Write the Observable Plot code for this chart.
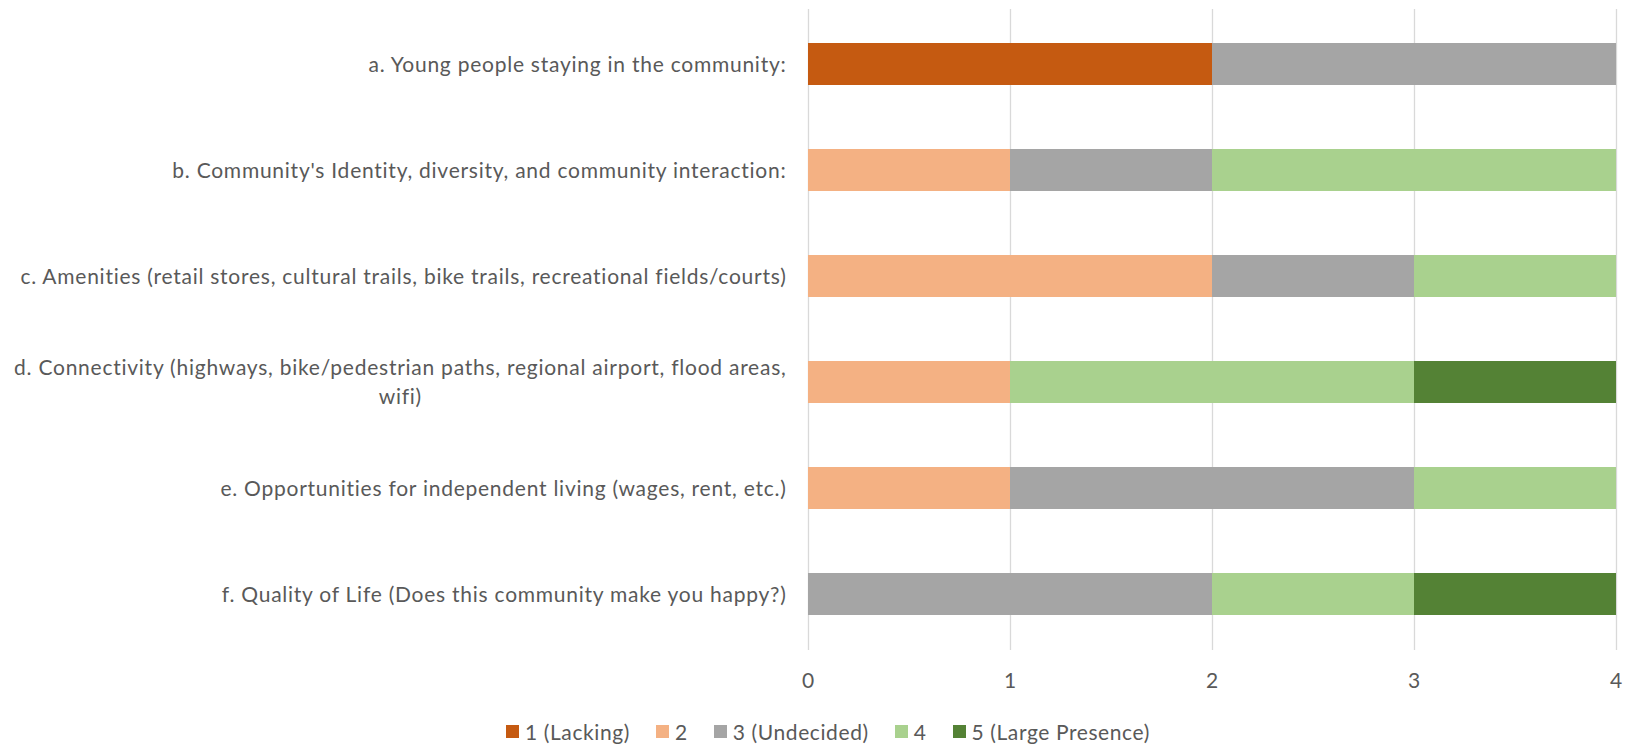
<!DOCTYPE html>
<html>
<head>
<meta charset="utf-8">
<script src="https://cdn.jsdelivr.net/npm/d3@7"></script>
<script src="https://cdn.jsdelivr.net/npm/@observablehq/plot@0.6"></script>
<style>
  html, body { margin: 0; padding: 0; background: #fff; }
  body { font-family: Lato, "Open Sans", sans-serif; color: #595959; width: 1642px; }
  svg text { letter-spacing: 0.75px; }
  #legend { display: flex; justify-content: center; align-items: center; padding-left: 14px; height: 52px; font-size: 21px; letter-spacing: 0.6px; }
  #legend .item { display: flex; align-items: center; margin: 0 13px; }
  #legend .sw { width: 13px; height: 13px; margin-right: 6px; }
</style>
</head>
<body>
<div id="chart"></div>
<div id="legend"></div>
<script>
const categories = [
  "a. Young people staying in the community:",
  "b. Community's Identity, diversity, and community interaction:",
  "c. Amenities (retail stores, cultural trails, bike trails, recreational fields/courts)",
  "d. Connectivity (highways, bike/pedestrian paths, regional airport, flood areas,\nwifi)",
  "e. Opportunities for independent living (wages, rent, etc.)",
  "f. Quality of Life (Does this community make you happy?)"
];
const levels = ["1 (Lacking)", "2", "3 (Undecided)", "4", "5 (Large Presence)"];
const levelColors = ["#C55A11", "#F4B183", "#A5A5A5", "#A9D18E", "#548235"];
const lacking   = [2, 0, 0, 0, 0, 0];
const two       = [0, 1, 2, 1, 1, 0];
const undecided = [2, 1, 1, 0, 2, 2];
const four      = [0, 2, 1, 2, 1, 1];
const large     = [0, 0, 0, 1, 0, 1];
const xTicks = [0, 1, 2, 3, 4];

const series = [lacking, two, undecided, four, large];
const rows = [];
categories.forEach((c, i) => {
  levels.forEach((l, j) => rows.push({cat: c, level: l, value: series[j][i]}));
});

const FS = 21;
const plot = Plot.plot({
  width: 1642,
  height: 705,
  marginLeft: 808,
  marginRight: 26,
  marginTop: 9,
  marginBottom: 55,
  style: {fontFamily: "Lato, 'Open Sans', sans-serif", fontSize: FS + "px", color: "#595959", background: "#fff"},
  x: {domain: [0, 4], axis: null, label: null},
  y: {domain: categories, paddingInner: 0.6, paddingOuter: 0.3, axis: null},
  color: {domain: levels, range: levelColors},
  marks: [
    Plot.gridX(xTicks, {stroke: "#D9D9D9", strokeOpacity: 1, strokeWidth: 1.3}),
    Plot.barX(rows, Plot.stackX({y: "cat", x: "value", fill: "level", order: levels})),
    Plot.axisX(xTicks, {tickSize: 0, tickPadding: 23, fontSize: FS, fill: "#595959", tickFormat: d3.format("d"), label: null}),
    Plot.text(categories, {
      y: d => d, text: d => d, frameAnchor: "left", textAnchor: "end", dx: -22, dy: -2,
      fill: "#595959", fontSize: FS, lineHeight: 1.36
    })
  ]
});
document.getElementById("chart").appendChild(plot);

// center the lines of wrapped labels relative to each other (block stays right-aligned)
d3.select(plot).selectAll("text").each(function() {
  const tspans = Array.from(this.querySelectorAll("tspan"));
  if (tspans.length > 1) {
    const w = d3.max(tspans, t => t.getComputedTextLength());
    this.setAttribute("text-anchor", "middle");
    tspans.forEach(t => t.setAttribute("x", -w / 2));
  }
});

const legend = d3.select("#legend");
levels.forEach((l, i) => {
  const it = legend.append("div").attr("class", "item");
  it.append("div").attr("class", "sw").style("background", levelColors[i]);
  it.append("span").text(l);
});
</script>
</body>
</html>
